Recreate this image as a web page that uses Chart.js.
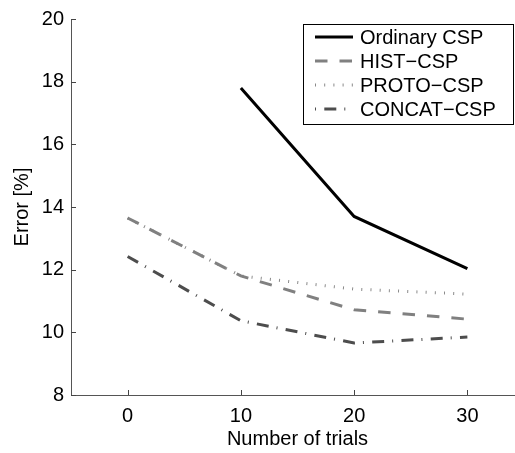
<!DOCTYPE html>
<html>
<head>
<meta charset="utf-8">
<script src="https://cdn.jsdelivr.net/npm/chart.js@4.4.1/dist/chart.umd.min.js"></script>
<style>
html, body { margin: 0; padding: 0; background: #fff; overflow: hidden; }
#wrap { width: 540px; height: 453px; }
</style>
</head>
<body>
<div id="wrap"><canvas id="errChart" width="540" height="453"></canvas></div>
<script>
var trials = [0, 10, 20, 30];
var ordinaryCsp = [null, 17.8, 13.7, 12.03];
var histCsp = [13.65, 11.8, 10.72, 10.42];
var protoCsp = [13.65, 11.8, 11.38, 11.22];
var concatCsp = [12.42, 10.37, 9.66, 9.85];
var xTicks = [0, 10, 20, 30];
var seriesNames = ["Ordinary CSP", "HIST\u2212CSP", "PROTO\u2212CSP", "CONCAT\u2212CSP"];

function pts(vals) {
    var out = [];
    for (var i = 0; i < trials.length; i++) {
        if (vals[i] !== null) out.push({x: trials[i], y: vals[i]});
    }
    return out;
}

var FONT = "'Liberation Sans', Arial, Helvetica, sans-serif";
var styles = [
    {color: "#000000", dash: []},
    {color: "#808080", dash: [12.5, 12]},
    {color: "#8a8a8a", dash: [1, 8.2]},
    {color: "#4d4d4d", dash: [12, 8, 1, 8.3]}
];
var series = [ordinaryCsp, histCsp, protoCsp, concatCsp];

var datasets = [];
for (var k = 0; k < series.length; k++) {
    datasets.push({
        label: seriesNames[k],
        data: pts(series[k]),
        borderColor: styles[k].color,
        borderDash: styles[k].dash,
        borderWidth: 3,
        borderCapStyle: "butt",
        pointRadius: 0,
        tension: 0,
        fill: false
    });
}

// matlab style ticks pointing into the plot
var inwardTicks = {
    id: "inwardTicks",
    afterDraw: function(chart) {
        var ctx = chart.ctx, xs = chart.scales.x, ys = chart.scales.y;
        var area = chart.chartArea;
        ctx.save();
        ctx.strokeStyle = "#444";
        ctx.lineWidth = 1;
        ctx.beginPath();
        xs.ticks.forEach(function(t) {
            var px = Math.round(xs.getPixelForValue(t.value)) + 0.5;
            ctx.moveTo(px, area.bottom);
            ctx.lineTo(px, area.bottom - 5);
        });
        ys.ticks.forEach(function(t) {
            var py = Math.round(ys.getPixelForValue(t.value)) + 0.5;
            ctx.moveTo(area.left, py);
            ctx.lineTo(area.left + 5, py);
        });
        ctx.stroke();
        ctx.restore();
    }
};

// boxed legend in the upper right corner
var boxLegend = {
    id: "boxLegend",
    afterDraw: function(chart) {
        var ctx = chart.ctx;
        var bx = 303.5, by = 24.5, bw = 210, bh = 100;
        ctx.save();
        ctx.fillStyle = "#fff";
        ctx.fillRect(bx, by, bw, bh);
        ctx.strokeStyle = "#000";
        ctx.lineWidth = 1;
        ctx.strokeRect(bx, by, bw, bh);
        ctx.font = "20px " + FONT;
        ctx.textBaseline = "middle";
        chart.data.datasets.forEach(function(ds, i) {
            var y = 37 + i * 24;
            ctx.strokeStyle = ds.borderColor;
            ctx.lineWidth = 3;
            ctx.setLineDash(ds.borderDash);
            ctx.lineDashOffset = i === 3 ? 20 : 0;
            ctx.beginPath();
            ctx.moveTo(315, y);
            ctx.lineTo(353, y);
            ctx.stroke();
            ctx.setLineDash([]);
            ctx.fillStyle = "#000";
            ctx.fillText(ds.label, 360, y + 1);
        });
        ctx.restore();
    }
};

var ctx = document.getElementById("errChart").getContext("2d");
window.errChart = new Chart(ctx, {
    type: "line",
    data: {datasets: datasets},
    options: {
        responsive: false,
        animation: false,
        layout: {padding: {top: 14, right: 16, left: 0, bottom: 0}},
        plugins: {legend: {display: false}, tooltip: {enabled: false}},
        scales: {
            x: {
                type: "linear",
                min: -5,
                max: 35,
                afterBuildTicks: function(scale) {
                    scale.ticks = xTicks.map(function(v) { return {value: v}; });
                },
                afterFit: function(scale) { scale.height = 58; },
                grid: {display: true, drawOnChartArea: false, drawTicks: false},
                border: {color: "#555", width: 1},
                ticks: {color: "#000", font: {family: FONT, size: 20}, padding: 9, maxRotation: 0},
                title: {display: true, text: "Number of trials", color: "#000",
                        font: {family: FONT, size: 20}, padding: {top: 0, bottom: 2}}
            },
            y: {
                min: 8,
                max: 20,
                ticks: {stepSize: 2, color: "#000", font: {family: FONT, size: 20}, padding: 7},
                afterFit: function(scale) { scale.width = 71; },
                grid: {display: true, drawOnChartArea: false, drawTicks: false},
                border: {color: "#555", width: 1},
                title: {display: true, text: "Error [%]", color: "#000",
                        font: {family: FONT, size: 20}, padding: {top: 10, bottom: 0}}
            }
        }
    },
    plugins: [inwardTicks, boxLegend]
});
</script>
</body>
</html>
